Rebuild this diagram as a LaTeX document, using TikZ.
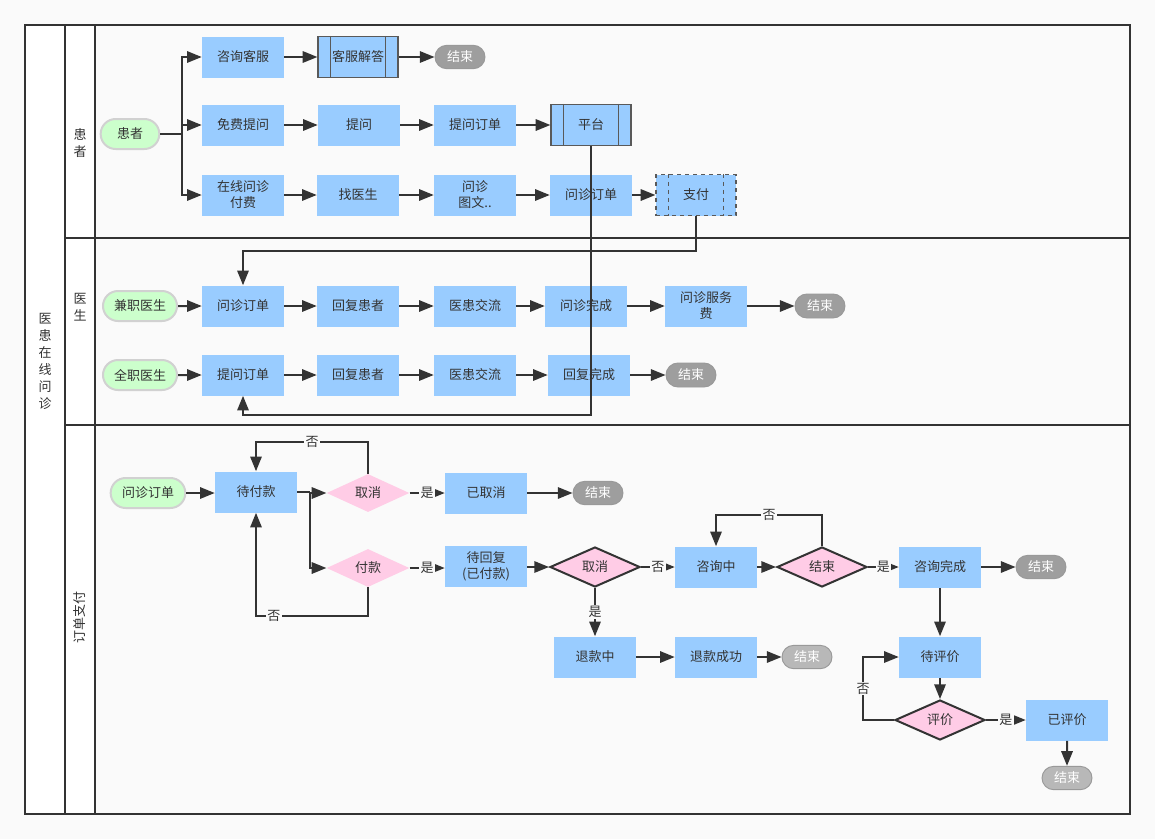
\documentclass[tikz,border=0pt]{standalone}
\usepackage{fontspec}
\newfontfamily\cjk{Noto Sans CJK SC}
\usetikzlibrary{arrows.meta,shapes.geometric,shapes.misc}
\definecolor{bgc}{HTML}{FAFAFA}
\definecolor{bluec}{HTML}{99CCFF}
\definecolor{greenc}{HTML}{CCFFCC}
\definecolor{pinkc}{HTML}{FFCCE6}
\definecolor{grayc}{HTML}{9E9E9E}
\definecolor{lgrayc}{HTML}{B8B8B8}
\definecolor{linec}{HTML}{333333}
\definecolor{txtc}{HTML}{333333}
\tikzset{
  base/.style={font=\cjk\fontsize{9.75}{12}\selectfont, text=txtc, inner sep=0pt, align=center},
  box/.style={base, rectangle, fill=bluec, minimum width=61.5pt, minimum height=30.75pt},
  pbox/.style={box, minimum width=60pt, draw=black!65, line width=0.9pt},
  dpbox/.style={pbox, dashed},
  startp/.style={base, rounded rectangle, fill=greenc, draw=black!18, line width=1.5pt, minimum width=44pt, minimum height=22.5pt},
  endp/.style={base, rounded rectangle, fill=grayc, draw=black!40, line width=0.7pt, text=white, minimum width=37.5pt, minimum height=17.5pt},
  dia/.style={base, diamond, fill=pinkc, aspect=2.2, minimum width=62pt, minimum height=28.5pt},
  bdia/.style={dia, draw=linec, line width=1.5pt, minimum width=67.5pt, minimum height=30pt},
  ln/.style={draw=linec, line width=1.5pt},
  arr/.style={ln, -{Triangle[length=11pt,width=8.5pt]}},
  lab/.style={base, fill=bgc, inner sep=1pt},
  lane/.style={draw=linec, line width=1.5pt},
  lanetxt/.style={base, font=\cjk\fontsize{9.75}{12.75}\selectfont}
}
\begin{document}
\begin{tikzpicture}[x=0.75pt,y=-0.75pt]
\useasboundingbox (0,0) rectangle (1155,839);
\fill[bgc] (0,0) rectangle (1155,839);
\fill[white] (25,25) rectangle (95,814);
% pool and lanes
\draw[lane] (25,25) rectangle (1130,814);
\draw[lane] (65,25) -- (65,814);
\draw[lane] (95,25) -- (95,814);
\draw[lane] (65,238) -- (1130,238);
\draw[lane] (65,425) -- (1130,425);
\node[lanetxt] (pool) at (45,361) {医\\患\\在\\线\\问\\诊};
\node[lanetxt] (l1) at (80,143) {患\\者};
\node[lanetxt] (l2) at (80,307) {医\\生};
\node[lanetxt, rotate=90] (l3) at (80,617) {订单支付};

% patient lane
\node[startp] (p) at (130,134) {患者};
\node[box] (a1) at (243,57) {咨询客服};
\node[pbox] (a2) at (358,57) {客服解答};
\node[endp] (a3) at (460,57) {结束};
\node[box] (b1) at (243,125) {免费提问};
\node[box] (b2) at (359,125) {提问};
\node[box] (b3) at (475,125) {提问订单};
\node[pbox] (b4) at (591,125) {平台};
\node[box] (c1) at (243,195) {在线问诊\\付费};
\node[box] (c2) at (358,195) {找医生};
\node[box] (c3) at (475,195) {问诊\\图文..};
\node[box] (c4) at (591,195) {问诊订单};
\node[dpbox] (c5) at (696,195) {支付};
\foreach \n in {a2,b4}{
  \draw[black!65, line width=0.9pt] ([xshift=9.75pt]\n.north west) -- ([xshift=9.75pt]\n.south west);
  \draw[black!65, line width=0.9pt] ([xshift=-9.75pt]\n.north east) -- ([xshift=-9.75pt]\n.south east);
}
\draw[black!65, line width=0.9pt, dashed] ([xshift=9.75pt]c5.north west) -- ([xshift=9.75pt]c5.south west);
\draw[black!65, line width=0.9pt, dashed] ([xshift=-9.75pt]c5.north east) -- ([xshift=-9.75pt]c5.south east);

% doctor lane
\node[startp, minimum width=55.5pt] (d0) at (140,306) {兼职医生};
\node[box] (d1) at (243,306) {问诊订单};
\node[box] (d2) at (358,306) {回复患者};
\node[box] (d3) at (475,306) {医患交流};
\node[box] (d4) at (586,306) {问诊完成};
\node[box] (d5) at (706,306) {问诊服务\\费};
\node[endp, minimum height=18pt] (d6) at (820,306) {结束};
\node[startp, minimum width=55.5pt] (e0) at (140,375) {全职医生};
\node[box] (e1) at (243,375) {提问订单};
\node[box] (e2) at (358,375) {回复患者};
\node[box] (e3) at (475,375) {医患交流};
\node[box] (e4) at (589,375) {回复完成};
\node[endp, minimum height=18pt] (e5) at (691,375) {结束};

% order lane
\node[startp, minimum width=56pt] (o0) at (148,493) {问诊订单};
\node[box] (o1) at (256,492) {待付款};
\node[dia] (q1) at (368,493) {取消};
\node[box] (o2) at (486,493) {已取消};
\node[endp] (o3) at (598,493) {结束};
\node[dia] (q2) at (368,568) {付款};
\node[box] (o4) at (486,566) {待回复\\(已付款)};
\node[bdia] (q3) at (595,567) {取消};
\node[box] (o5) at (716,567) {咨询中};
\node[bdia] (q4) at (822,567) {结束};
\node[box] (o6) at (940,567) {咨询完成};
\node[endp] (o7) at (1041,567) {结束};
\node[box] (o8) at (595,657) {退款中};
\node[box] (o9) at (716,657) {退款成功};
\node[endp, fill=lgrayc] (o10) at (807,657) {结束};
\node[box] (o11) at (940,657) {待评价};
\node[bdia] (q5) at (940,720) {评价};
\node[box] (o12) at (1067,720) {已评价};
\node[endp, fill=lgrayc] (o13) at (1067,778) {结束};

% connectors patient lane
\coordinate (pb) at (182,134);
\draw[ln] (p.east) -- (pb);
\draw[arr] (pb) |- (a1.west);
\draw[arr] (pb) |- (b1.west);
\draw[arr] (pb) |- (c1.west);
\draw[arr] (a1) -- (a2);
\draw[arr] (a2) -- (a3);
\draw[arr] (b1) -- (b2);
\draw[arr] (b2) -- (b3);
\draw[arr] (b3) -- (b4);
\draw[arr] (c1) -- (c2);
\draw[arr] (c2) -- (c3);
\draw[arr] (c3) -- (c4);
\draw[arr] (c4) -- (c5);
\coordinate (k1) at (591,415);
\draw[arr] (b4.south) -- (k1) -| (e1.south);
\draw[arr] (c5.south) -- ++(0,35) -| (d1.north);

% connectors doctor lane
\draw[arr] (d0) -- (d1);
\draw[arr] (d1) -- (d2);
\draw[arr] (d2) -- (d3);
\draw[arr] (d3) -- (d4);
\draw[arr] (d4) -- (d5);
\draw[arr] (d5) -- (d6);
\draw[arr] (e0) -- (e1);
\draw[arr] (e1) -- (e2);
\draw[arr] (e2) -- (e3);
\draw[arr] (e3) -- (e4);
\draw[arr] (e4) -- (e5);

% connectors order lane
\draw[arr] (o0.east) -- (o1.west |- o0.east);
\coordinate (s1) at (310,492);
\draw[ln] (o1.east) -- (s1);
\draw[arr] (s1) |- (q1.west);
\draw[arr] (s1) |- (q2.west);
\draw[arr] (q1.north) -- ++(0,-32) -| node[pos=0.25, lab] {否} (o1.north);
\draw[arr] (q2.south) -- ++(0,29) -| node[pos=0.42, lab] {否} (o1.south);
\draw[arr] (q1.east) -- node[lab] {是} (o2.west |- q1.east);
\draw[arr] (o2) -- (o3);
\draw[arr] (q2.east) -- node[lab] {是} (o4.west |- q2.east);
\draw[arr] (o4.east |- q3.west) -- (q3.west);
\draw[arr] (q3.east) -- node[lab] {否} (o5.west);
\draw[arr] (q3.south) -- node[lab] {是} (o8.north);
\draw[arr] (o5.east) -- (q4.west);
\draw[arr] (q4.north) -- ++(0,-31) -| node[pos=0.25, lab] {否} (o5.north);
\draw[arr] (q4.east) -- node[lab] {是} (o6.west);
\draw[arr] (o6) -- (o7);
\draw[arr] (o6) -- (o11);
\draw[arr] (o8) -- (o9);
\draw[arr] (o9) -- (o10);
\draw[arr] (o11) -- (q5);
\draw[arr] (q5.east) -- node[lab] {是} (o12.west);
\draw[arr] (q5.west) -- ++(-31,0) |- node[pos=0.25, lab] {否} (o11.west);
\draw[arr] (o12) -- (o13);
\end{tikzpicture}
\end{document}
